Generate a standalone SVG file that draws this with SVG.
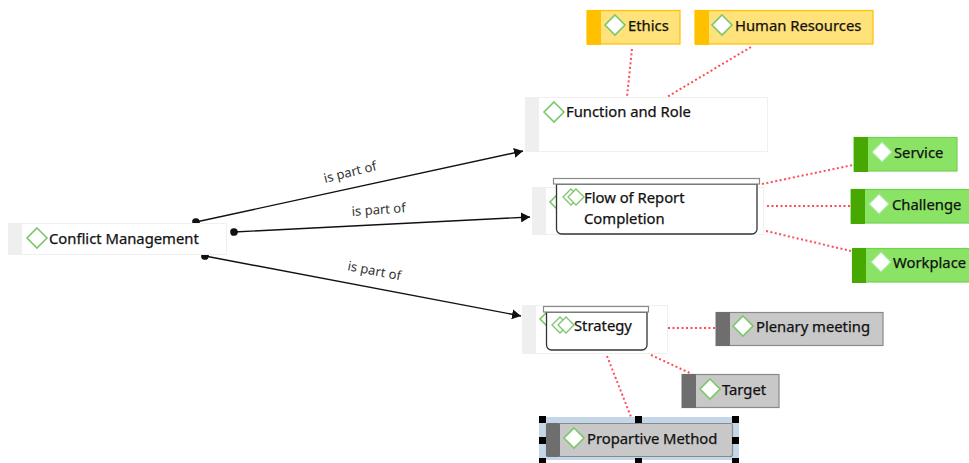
<svg xmlns="http://www.w3.org/2000/svg" width="969" height="463" viewBox="0 0 969 463">
<style>
text{font-family:"Noto Sans","Open Sans",sans-serif;font-size:14.800px;fill:#111;stroke:#111;stroke-width:.25}
.lbl{font-size:13px;fill:#333;stroke:none}
.plain{fill:#fff;stroke:#f0f0f0;stroke-width:1}
.pstripe{fill:#efefef}
.dia{fill:none;stroke:#7cc76c;stroke-width:1.6}
.wdia{fill:#fff;stroke:#7cc76c;stroke-width:1.6}
.gdia{fill:#fff;stroke:#a8e89a;stroke-width:1.2}
.y{fill:#ffe27a;stroke:#ffc000;stroke-width:1.2}
.ys{fill:#ffc000}
.g{fill:#8ae364;stroke:#70d050;stroke-width:1.2}
.gs{fill:#46a800}
.k{fill:#c8c8c8;stroke:#8a8a8a;stroke-width:1.2}
.ks{fill:#6e6e6e}
.bar{fill:#fff;stroke:#8a8a8a;stroke-width:1.2}
.inner{fill:#fff;stroke:#333;stroke-width:1.3}
.dot{stroke:#ff4d55;stroke-width:2;stroke-dasharray:2 2.500;fill:none}
.rel{stroke:#111;stroke-width:1.4;fill:none}
.h{fill:#000}
</style>
<defs>
<marker id="arr" markerWidth="9" markerHeight="10" refX="9" refY="5" orient="auto" markerUnits="userSpaceOnUse"><path d="M0 0L9 5L0 10z" fill="#111"/></marker>
<marker id="start" markerWidth="8" markerHeight="8" refX="4" refY="4" orient="auto" markerUnits="userSpaceOnUse"><circle cx="4" cy="4" r="3.800" fill="#111"/></marker>
<path id="d" d="M0-10L10 0L0 10L-10 0z"/>
</defs>
<g id="connectors">
<path class="dot" d="M632 49L627 97"/>
<path class="dot" d="M751 47L667 97"/>
<path class="dot" d="M762 184L853 165"/>
<path class="dot" d="M767 206L850 206"/>
<path class="dot" d="M766 231L851 251"/>
<path class="dot" d="M668 328L715 328"/>
<path class="dot" d="M651 355L692 374"/>
<path class="dot" d="M607 356L633 422"/>
<path class="rel" marker-start="url(#start)" marker-end="url(#arr)" d="M196 222L523 151"/>
<path class="rel" marker-start="url(#start)" marker-end="url(#arr)" d="M234 232L530 217"/>
<path class="rel" marker-start="url(#start)" marker-end="url(#arr)" d="M205 256L521 316"/>
<text class="lbl" transform="translate(325 183) rotate(-14)">is part of</text>
<text class="lbl" transform="translate(352 216) rotate(-4)">is part of</text>
<text class="lbl" transform="translate(347 270) rotate(11)">is part of</text>
</g>
<g id="node-conflict">
<rect class="plain" x="8.500" y="223.500" width="218" height="31"/><rect class="pstripe" x="8" y="223" width="14" height="32"/>
<use href="#d" class="dia" x="37" y="238"/><text x="49" y="244">Conflict Management</text>
</g>
<g id="node-function">
<rect class="plain" x="525.500" y="97.500" width="242" height="54"/><rect class="pstripe" x="525" y="97" width="14" height="55"/>
<use href="#d" class="dia" x="554" y="112"/><text x="566" y="117">Function and Role</text>
</g>
<g id="node-flow">
<rect class="plain" x="532.500" y="187.500" width="231" height="47"/><rect class="pstripe" x="532" y="187" width="14" height="48"/>
<use href="#d" class="dia" x="560" y="202"/>
<path class="inner" d="M556.500 184V229a5 5 0 0 0 5 5H752a5 5 0 0 0 5-5V184z"/>
<rect class="bar" x="553.500" y="178.500" width="206" height="5.500"/>
<use href="#d" class="dia" transform="translate(571 197) scale(.8)"/><use href="#d" class="wdia" transform="translate(576 197) scale(.8)"/>
<text x="584" y="203">Flow of Report</text><text x="584" y="224">Completion</text>
</g>
<g id="node-strategy">
<rect class="plain" x="522.500" y="305.500" width="145" height="48"/><rect class="pstripe" x="522" y="305" width="14" height="49"/>
<use href="#d" class="dia" x="550" y="319"/>
<path class="inner" d="M546.500 312V345a5 5 0 0 0 5 5H642a5 5 0 0 0 5-5V312z"/>
<rect class="bar" x="543.500" y="306.500" width="105" height="5.500"/>
<use href="#d" class="dia" transform="translate(560 325) scale(.8)"/><use href="#d" class="wdia" transform="translate(566 325) scale(.8)"/>
<text x="574" y="331">Strategy</text>
</g>
<g id="node-ethics">
<rect class="y" x="587" y="10.500" width="93" height="33.500"/><rect class="ys" x="587" y="10" width="14" height="35"/>
<use href="#d" class="wdia" x="615" y="25"/><text x="628" y="31">Ethics</text>
</g>
<g id="node-hr">
<rect class="y" x="695" y="10.500" width="178" height="33.500"/><rect class="ys" x="695" y="10" width="14" height="35"/>
<use href="#d" class="wdia" x="722" y="25"/><text x="735" y="31">Human Resources</text>
</g>
<g id="node-service">
<rect class="g" x="854" y="137.500" width="103" height="33.500"/><rect class="gs" x="854" y="137" width="14" height="35"/>
<use href="#d" class="gdia" x="882" y="152"/><text x="894" y="158">Service</text>
</g>
<g id="node-challenge">
<rect class="g" x="851" y="189.500" width="125" height="33.500"/><rect class="gs" x="851" y="189" width="14" height="35"/>
<use href="#d" class="gdia" x="879" y="204"/><text x="892" y="210">Challenge</text>
</g>
<g id="node-workplace">
<rect class="g" x="852.500" y="248.500" width="125" height="33.500"/><rect class="gs" x="852" y="248" width="14" height="35"/>
<use href="#d" class="gdia" x="881" y="262"/><text x="893" y="268">Workplace</text>
</g>
<g id="node-plenary">
<rect class="k" x="716" y="312.500" width="167" height="33"/><rect class="ks" x="716" y="312" width="14" height="34"/>
<use href="#d" class="wdia" x="743" y="326"/><text x="756" y="332">Plenary meeting</text>
</g>
<g id="node-target">
<rect class="k" x="682" y="374.500" width="97" height="33"/><rect class="ks" x="682" y="374" width="14" height="34"/>
<use href="#d" class="wdia" x="710" y="389"/><text x="722" y="395">Target</text>
</g>
<g id="node-propartive">
<rect x="539" y="417" width="200" height="43" fill="#c5d6e8"/>
<rect class="k" x="546.500" y="423.500" width="186" height="33" rx="2"/><rect class="ks" x="546" y="423" width="14" height="34" rx="2"/>
<use href="#d" class="wdia" x="574" y="438"/><text x="587" y="444">Propartive Method</text>
<g class="h">
<rect x="539" y="416" width="7" height="7"/><rect x="635" y="416" width="7" height="7"/><rect x="732" y="416" width="7" height="7"/>
<rect x="539" y="437" width="7" height="7"/><rect x="732" y="437" width="7" height="7"/>
<rect x="539" y="458" width="7" height="5"/><rect x="635" y="458" width="7" height="5"/><rect x="732" y="458" width="7" height="5"/>
</g>
</g>
</svg>
